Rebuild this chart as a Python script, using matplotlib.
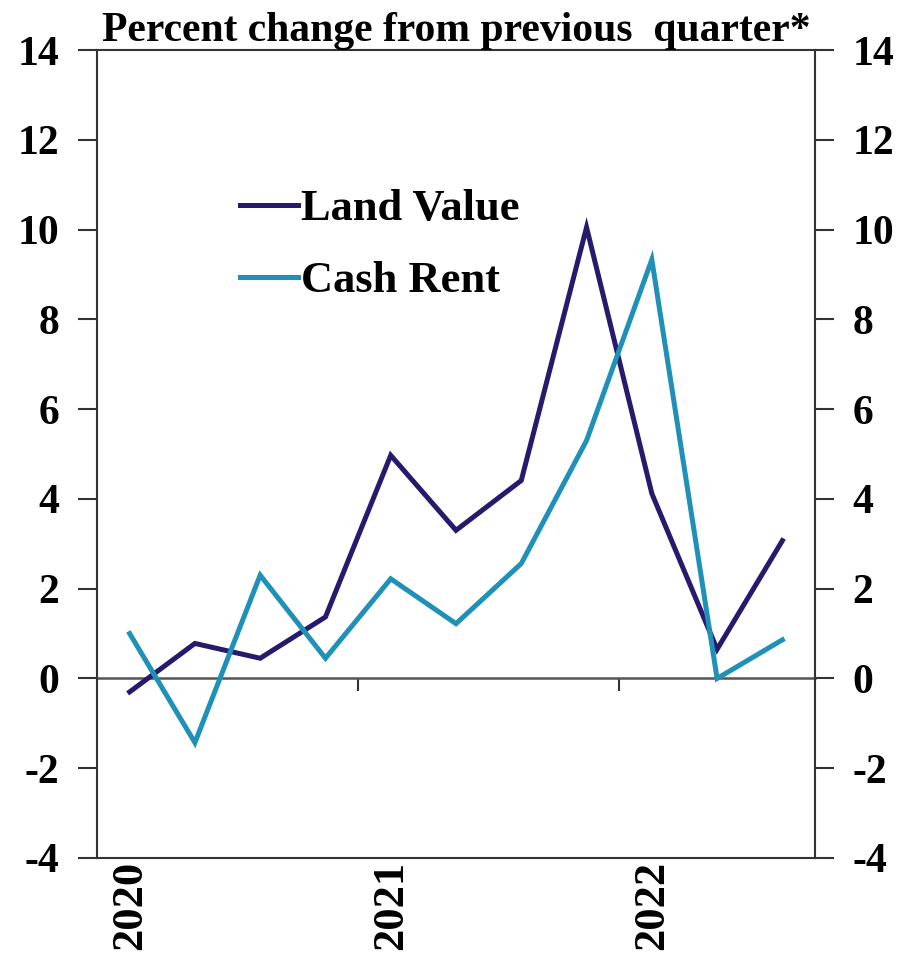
import matplotlib

matplotlib.use("Agg")
import matplotlib.pyplot as plt

# quarterly percent change, 2020Q1 .. 2022Q3
quarters = ["2020Q1", "2020Q2", "2020Q3", "2020Q4",
            "2021Q1", "2021Q2", "2021Q3", "2021Q4",
            "2022Q1", "2022Q2", "2022Q3"]
land_value = [-0.30, 0.78, 0.45, 1.37, 4.97, 3.30, 4.41, 10.05, 4.12, 0.65, 3.07]
cash_rent = [1.00, -1.43, 2.30, 0.45, 2.22, 1.22, 2.56, 5.30, 9.33, 0.00, 0.86]

year_labels = ["2020", "2021", "2022"]
y_ticks = [-4, -2, 0, 2, 4, 6, 8, 10, 12, 14]

NAVY = "#271a6c"
TEAL = "#1f91b9"
AXIS = "#333333"

plt.rcParams["font.family"] = ["Liberation Serif", "DejaVu Serif"]
plt.rcParams["font.weight"] = "bold"

fig = plt.figure(figsize=(9, 9.73), dpi=100)
ax = fig.add_axes([97 / 900, 1 - 858 / 973, 718 / 900, 808 / 973])

x = list(range(len(quarters)))
ax.plot(x, land_value, color=NAVY, lw=3.6, label="Land Value", solid_joinstyle="miter")
ax.plot(x, cash_rent, color=TEAL, lw=3.6, label="Cash Rent", solid_joinstyle="miter")

ax.set_xlim(-0.5, len(quarters) - 0.5)
ax.set_ylim(-4, 14)
ax.set_yticks(y_ticks)
ax.set_yticklabels([str(v) for v in y_ticks])
ax.tick_params(axis="y", which="both", direction="out", length=14, width=1.5,
               color=AXIS, labelsize=30, pad=13, right=True, labelright=True)
for tick in ax.yaxis.get_major_ticks():
    tick.label2.set_horizontalalignment("left")

# year labels under first quarter of each year, no tick marks
ax.set_xticks([x[quarters.index(y + "Q1")] for y in year_labels])
ax.set_xticklabels(year_labels, rotation=90, fontsize=32, fontweight="bold")
ax.tick_params(axis="x", length=0, pad=2)

for side in ax.spines.values():
    side.set_color(AXIS)
    side.set_linewidth(1.5)

# zero line with year boundary ticks
zero = ax.secondary_xaxis(4 / 18)
zero.spines["bottom"].set_color("#555555")
zero.spines["bottom"].set_linewidth(1.8)
zero.set_xticks([3.5, 7.5])
zero.set_xticklabels(["", ""])
zero.tick_params(axis="x", direction="out", length=9, width=1.5, color=AXIS)

ax.set_title("Percent change from previous  quarter*", fontsize=30,
             fontweight="bold", pad=5)

leg = ax.legend(loc="upper left", bbox_to_anchor=((240 - 97) / 718, (858 - 189) / 808),
                frameon=False, fontsize=32, handlelength=1.3, handletextpad=0.08,
                labelspacing=0.72, borderpad=0, borderaxespad=0)
for line in leg.get_lines():
    line.set_linewidth(3.6)

fig.savefig("out.png", dpi=100)
